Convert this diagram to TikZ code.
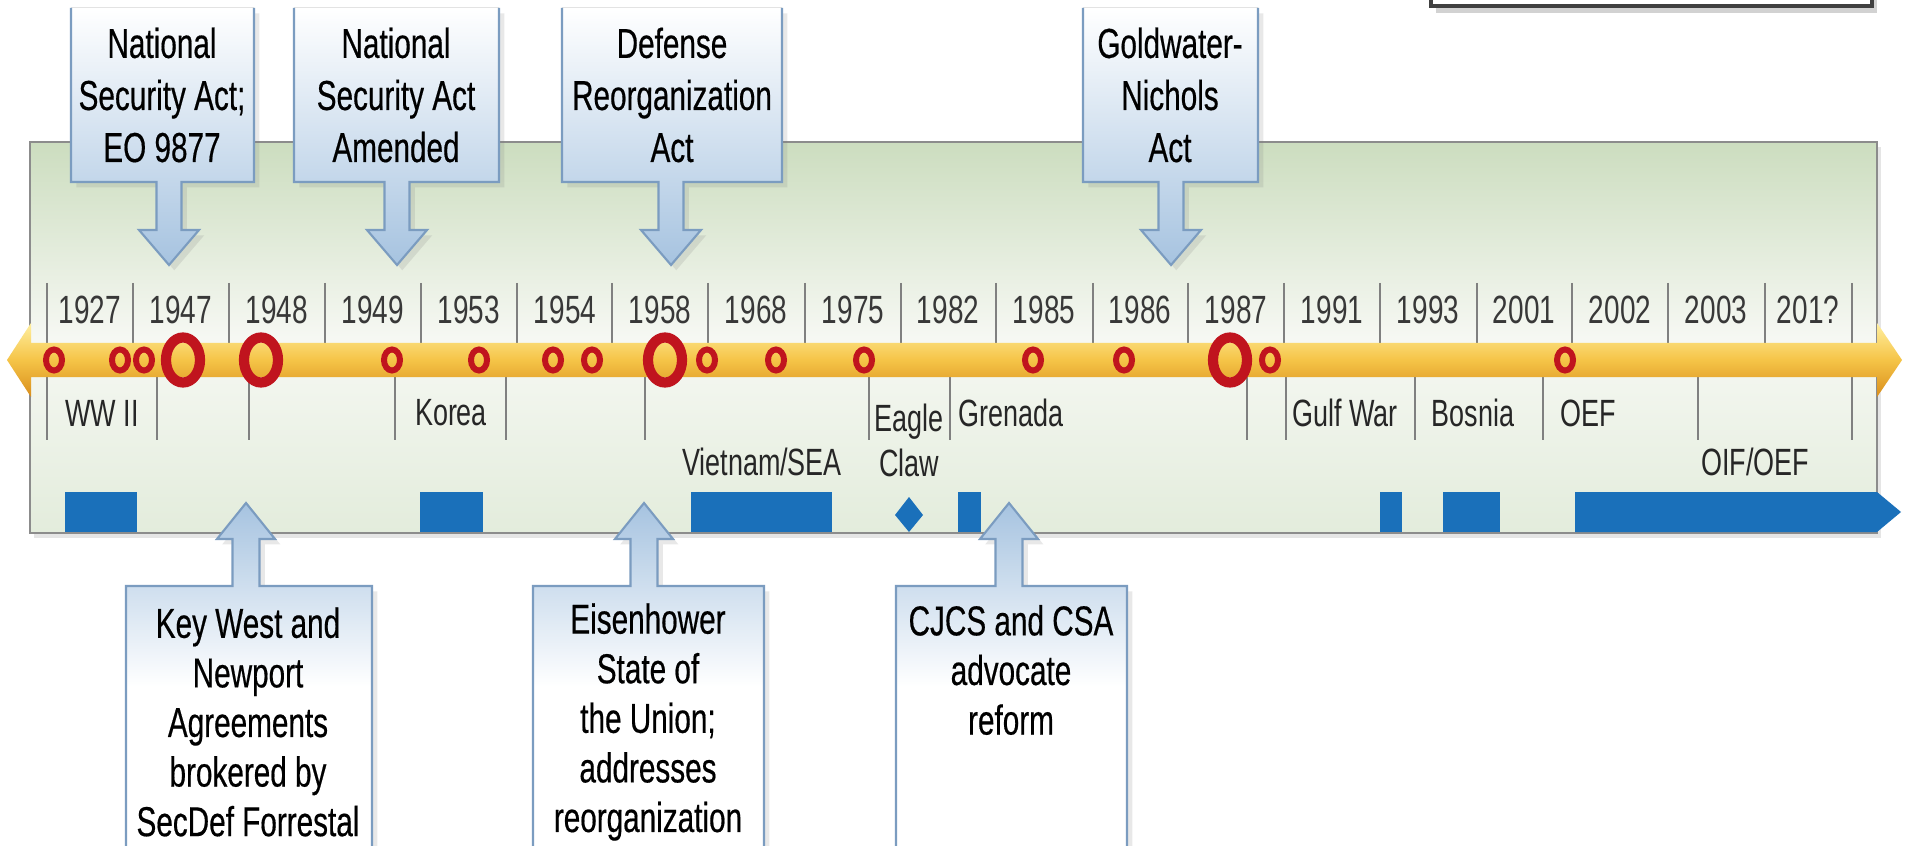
\documentclass[tikz,border=0pt]{standalone}
\usepackage{fontspec}
\setmainfont[FakeStretch=0.71]{Liberation Sans}
\newfontfamily\calloutfont[FakeStretch=0.71, FakeBold=0.4]{Liberation Sans}
\usetikzlibrary{shadows}

\definecolor{panelgreen}{HTML}{CCDDBF}
\definecolor{panelpale}{HTML}{F6F8F3}
\definecolor{calloutline}{HTML}{7B9CC0}
\definecolor{calloutblue}{HTML}{A6C3E0}
\definecolor{goldlight}{HTML}{FFEFA0}
\definecolor{goldmid}{HTML}{F5C447}
\definecolor{golddark}{HTML}{D98E1C}
\definecolor{ringred}{HTML}{C0141E}
\definecolor{warblue}{HTML}{1A70BA}

\tikzset{
  topfill/.style={top color=white, bottom color=calloutblue,
    drop shadow={opacity=0.18, shadow xshift=1.5pt, shadow yshift=-1.5pt}},
  calloutedge/.style={draw=calloutline, line width=0.6pt},
  botcallout/.style={draw=calloutline, line width=0.6pt, top color=calloutblue, bottom color=white, middle color=white,
    drop shadow={opacity=0.18, shadow xshift=1.5pt, shadow yshift=-1.5pt}},
  boxtext/.style={align=center, inner sep=0pt, font=\calloutfont\fontsize{11.9}{14.8}\selectfont},
  lowtext/.style={boxtext, font=\calloutfont\fontsize{11.9}{14.1}\selectfont},
  yearlabel/.style={inner sep=0pt, text=black!78, font=\fontsize{11.2}{13}\selectfont},
  warlabel/.style={inner sep=0pt, text=black!85, align=center, font=\fontsize{10.8}{12.8}\selectfont},
  divider/.style={draw=black!50, line width=0.5pt},
  smallring/.style={draw=ringred, line width=1.7pt},
  bigring/.style={draw=ringred, line width=2.9pt},
  warbar/.style={fill=warblue}
}

\begin{document}
\begin{tikzpicture}[x=0.01cm, y=-0.01cm]
  \useasboundingbox (0,0) rectangle (1913,846);
  \fill[white] (0,0) rectangle (1913,846);

  % green panel
  \draw[draw=black!45, line width=0.8pt, top color=panelgreen, bottom color=panelgreen!55!white, middle color=panelpale,
        drop shadow={opacity=0.2, shadow xshift=1pt, shadow yshift=-1.5pt}] (30,142) rectangle (1877,533);

  % box at the top right, cut by the page
  \draw[draw=black!75, line width=0.9pt, fill=white,
        drop shadow={opacity=0.35, shadow xshift=1.5pt, shadow yshift=-2pt}] (1431,-30) rectangle (1872,6);

  % callouts from above, open at the top
  \foreach \l/\r/\c in {71/254/169, 294/499/397, 562/782/671, 1083/1258/1171} {
    \fill[topfill] (\l,8) -- (\l,182) -- ({\c-12.5},182) -- ({\c-12.5},230) -- ({\c-30},230)
      -- (\c,265) -- ({\c+30},230) -- ({\c+12.5},230) -- ({\c+12.5},182) -- (\r,182) -- (\r,8) -- cycle;
    \draw[calloutedge] (\l,8) -- (\l,182) -- ({\c-12.5},182) -- ({\c-12.5},230) -- ({\c-30},230)
      -- (\c,265) -- ({\c+30},230) -- ({\c+12.5},230) -- ({\c+12.5},182) -- (\r,182) -- (\r,8);
  }

  \node[boxtext] (nsa47) at (162,95) {National\\Security Act;\\EO 9877};
  \node[boxtext] (nsa49) at (396,95) {National\\Security Act\\Amended};
  \node[boxtext] (dra58) at (672,95) {Defense\\Reorganization\\Act};
  \node[boxtext] (gna86) at (1170,95) {Goldwater-\\Nichols\\Act};

  % dividers
  \foreach \x in {47,133,229,325,421,517,612,708,805,901,996,1093,1188,1284,1380,1477,1572,1668,1765,1852}
    \draw[divider] (\x,283) -- (\x,343);
  \foreach \x in {47,157,249,395,506,645,869,950,1247,1286,1415,1543,1698,1852}
    \draw[divider] (\x,377) -- (\x,440);

  % years
  \foreach \x/\yr [count=\i] in {90/1927,181/1947,277/1948,373/1949,469/1953,565/1954,660/1958,756/1968,
      853/1975,948/1982,1044/1985,1140/1986,1236/1987,1332/1991,1428/1993,1524/2001,1620/2002,1716/2003,1808/201?}
    \node[yearlabel] (year\i) at (\x,310) {\yr};

  % timeline arrow
  \shade[top color=goldlight, bottom color=golddark, middle color=goldmid]
    (7,360) -- (31,323) -- (31,343) -- (1877,343) -- (1877,323) -- (1902,360)
    -- (1877,397) -- (1877,377) -- (31,377) -- (31,397) -- cycle;

  % events
  \foreach \x in {54,120,144,392,479,553,592,707,776,864,1033,1124,1270,1565}
    \draw[smallring] (\x,360) ellipse [x radius=0.08cm, y radius=0.105cm];
  \foreach \x in {183,261,665,1230}
    \draw[bigring] (\x,360) ellipse [x radius=0.17cm, y radius=0.225cm];

  % conflicts
  \node[warlabel] (ww2) at (102,413) {WW II};
  \node[warlabel] (korea) at (451,413) {Korea};
  \node[warlabel] (vietnam) at (762,462) {Vietnam/SEA};
  \node[warlabel] (eagleclaw) at (909,440) {Eagle\\Claw};
  \node[warlabel] (grenada) at (1011,413) {Grenada};
  \node[warlabel] (gulfwar) at (1345,413) {Gulf War};
  \node[warlabel] (bosnia) at (1473,413) {Bosnia};
  \node[warlabel] (oef) at (1588,413) {OEF};
  \node[warlabel] (oifoef) at (1755,462) {OIF/OEF};

  \fill[warbar] (65,492) rectangle (137,532);
  \fill[warbar] (420,492) rectangle (483,532);
  \fill[warbar] (691,492) rectangle (832,532);
  \fill[warbar] (909,497) -- (923,515) -- (909,532) -- (895,515) -- cycle;
  \fill[warbar] (958,492) rectangle (981,532);
  \fill[warbar] (1380,492) rectangle (1402,532);
  \fill[warbar] (1443,492) rectangle (1500,532);
  \fill[warbar] (1575,492) -- (1877,492) -- (1901,512) -- (1877,532) -- (1575,532) -- cycle;

  % callouts from below
  \foreach \l/\r/\c in {126/372/246, 533/764/644, 896/1127/1009}
    \draw[botcallout] (\l,870) -- (\l,586) -- ({\c-13.5},586) -- ({\c-13.5},539) -- ({\c-29},539)
      -- (\c,503) -- ({\c+29},539) -- ({\c+13.5},539) -- ({\c+13.5},586) -- (\r,586) -- (\r,870) -- cycle;

  \node[lowtext] (keywest) at (248,722) {Key West and\\Newport\\Agreements\\brokered by\\SecDef Forrestal};
  \node[lowtext] (eisenhower) at (648,722) {Eisenhower\\State of\\the Union;\\addresses\\reorganization};
  \node[lowtext] (cjcs) at (1011,670) {CJCS and CSA\\advocate\\reform};
\end{tikzpicture}
\end{document}
